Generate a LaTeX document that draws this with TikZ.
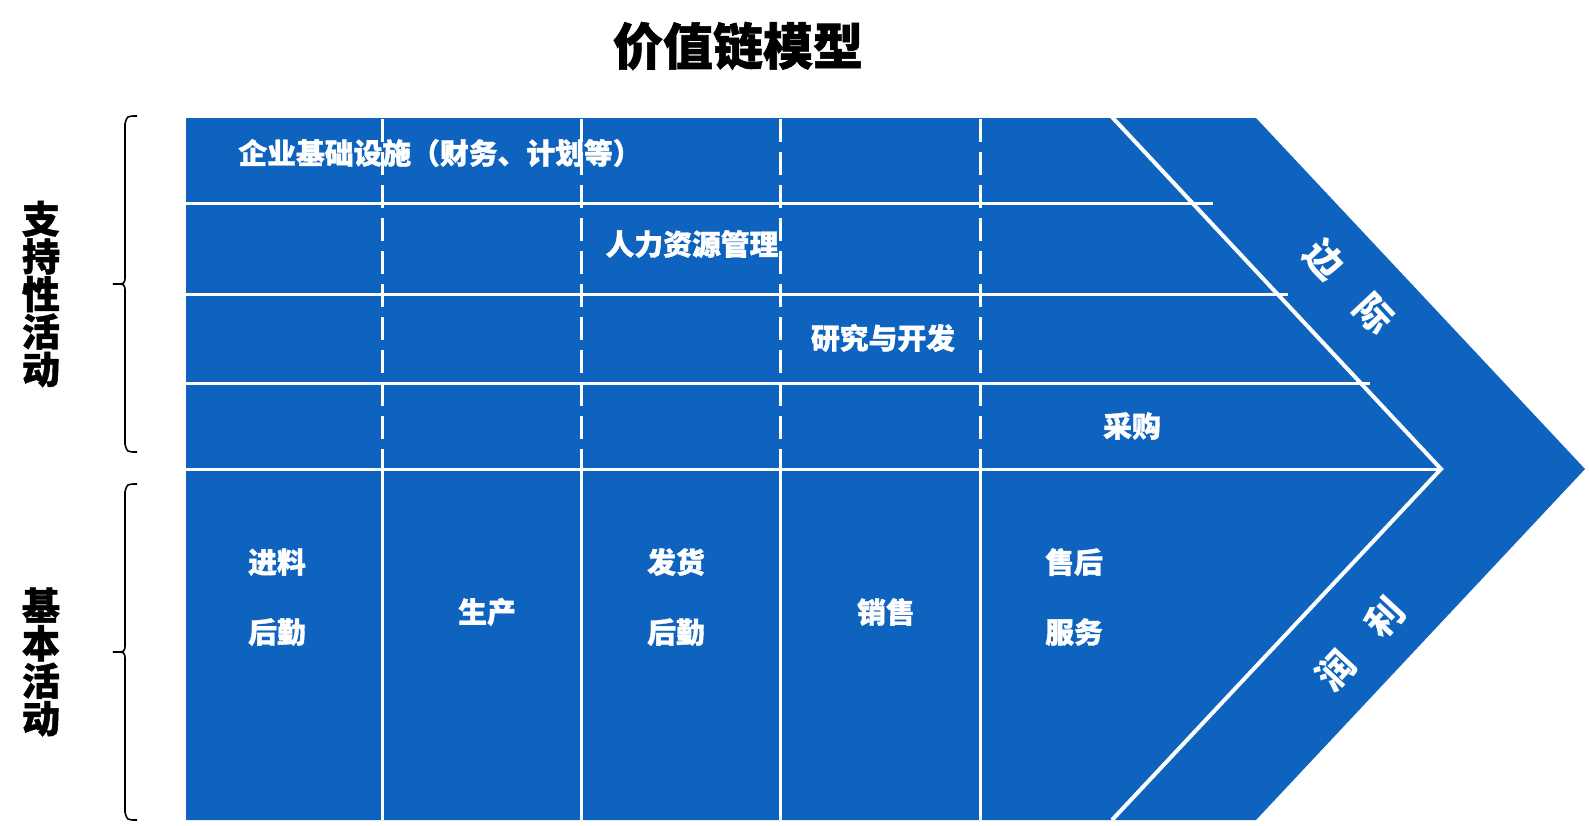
\documentclass[tikz,border=0pt]{standalone}
\usepackage{fontspec}
\newfontfamily\cjk{Noto Sans CJK SC}[BoldFeatures={FakeBold=1.2}]
\newfontfamily\cjkm{Noto Sans CJK SC}
\definecolor{vcblue}{RGB}{13,99,190}
\tikzset{
  wlabel/.style={text=white, font=\cjk\bfseries\fontsize{28.8}{70}\selectfont, align=center, inner sep=0pt},
  mlabel/.style={text=white, font=\cjkm\bfseries\fontsize{37}{37}\selectfont, inner sep=0pt},
  sidelabel/.style={text=black, font=\cjk\bfseries\fontsize{38}{37.6}\selectfont, align=center, inner sep=0pt},
  hline/.style={white, line width=3pt},
  dline/.style={white, line width=3pt, dash pattern=on 23pt off 10pt},
  vline/.style={white, line width=3pt},
  chev/.style={white, line width=4pt, miter limit=20},
  bracepath/.style={black, line width=1.6pt},
}
\begin{document}
\begin{tikzpicture}[x=1pt,y=-1pt]
\useasboundingbox (0,0) rectangle (1589,825);
% body
\fill[vcblue] (186,118) -- (1256,118) -- (1585,469) -- (1256,820) -- (186,820) -- cycle;
% inner chevron
\coordinate (ct) at (1112,117);
\coordinate (cp) at (1441,469);
\coordinate (cb) at (1112,820);
\draw[chev] (ct) -- (cp) -- (cb);
% horizontal lines
\coordinate (h1a) at (186,203); \coordinate (h1b) at (1213,203);
\coordinate (h2a) at (186,294); \coordinate (h2b) at (1288,294);
\coordinate (h3a) at (186,383); \coordinate (h3b) at (1370,383);
\coordinate (h4a) at (186,469);
\draw[hline] (h1a) -- (h1b);
\draw[hline] (h2a) -- (h2b);
\draw[hline] (h3a) -- (h3b);
\draw[hline] (h4a) -- (cp);
% vertical lines
\foreach \x/\n in {382/1,581/2,780/3,980/4}{
  \coordinate (vt\n) at (\x,119);
  \coordinate (vm\n) at (\x,469);
  \coordinate (vb\n) at (\x,820);
  \draw[dline] (vt\n) -- (vm\n);
  \draw[vline] (vm\n) -- (vb\n);
}
% title
\node[font=\cjk\bfseries\fontsize{50}{50}\selectfont, inner sep=0pt] (title) at (738,46) {价值链模型};
% support activities
\node[wlabel] (infra) at (440,153) {企业基础设施（财务、计划等）};
\node[wlabel] (hr) at (692,244) {人力资源管理};
\node[wlabel] (rd) at (883,338) {研究与开发};
\node[wlabel] (proc) at (1132,426) {采购};
% primary activities
\node[wlabel] (inlog) at (277,597) {进料\\后勤};
\node[wlabel] (prod) at (487,612) {生产};
\node[wlabel] (outlog) at (676,597) {发货\\后勤};
\node[wlabel] (sales) at (886,612) {销售};
\node[wlabel] (serv) at (1074,597) {售后\\服务};
% margin
\node[mlabel, rotate=-47] (m1) at (1349,287) {边\hspace{37pt}际};
\node[mlabel, rotate=47] (m2) at (1360,644) {润\hspace{35pt}利};
% side labels
\node[sidelabel] (sup) at (41,294) {支\\持\\性\\活\\动};
\node[sidelabel] (pri) at (41,662) {基\\本\\活\\动};
% braces
\draw[bracepath] (137,116) .. controls (127,116) .. (125,124) -- (125,276) .. controls (125,284) .. (113,284) .. controls (125,284) .. (125,292) -- (125,444) .. controls (127,452) .. (137,452);
\draw[bracepath] (137,484) .. controls (127,484) .. (125,492) -- (125,644) .. controls (125,652) .. (113,652) .. controls (125,652) .. (125,660) -- (125,812) .. controls (127,820) .. (137,820);
\end{tikzpicture}
\end{document}
